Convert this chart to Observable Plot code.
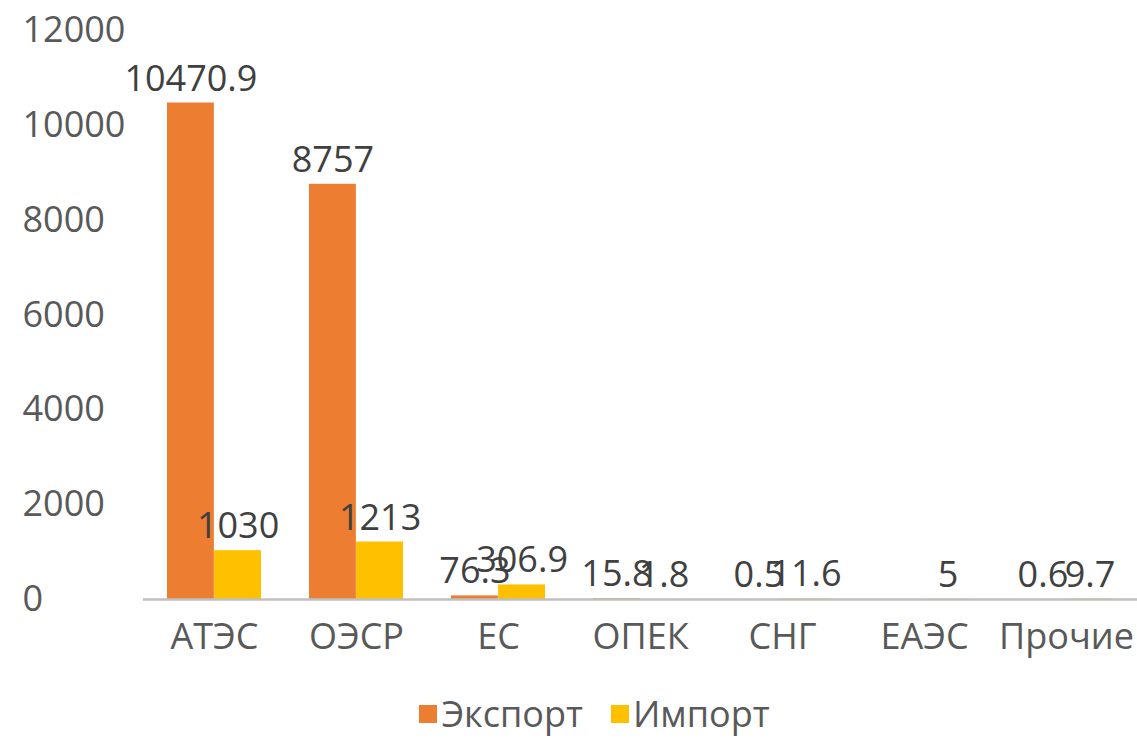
<!DOCTYPE html>
<html>
<head>
<meta charset="utf-8">
<script src="https://cdn.jsdelivr.net/npm/d3@7"></script>
<script src="https://cdn.jsdelivr.net/npm/@observablehq/plot@0.6"></script>
<style>
  body { margin: 0; background: #fff; font-family: "Open Sans", sans-serif; overflow: hidden; }
  #chart svg { display: block; }
  #legend { display: flex; justify-content: center; align-items: center; width: 1137px; box-sizing: border-box; padding-left: 52px; padding-top: 20px; height: 68px; font-size: 36px; line-height: 1.2; color: #595959; }
  .item { display: flex; align-items: center; margin: 0 14px; }
  .sw { width: 18px; height: 18px; margin-right: 4px; }
</style>
</head>
<body>
<div id="chart"></div>
<div id="legend"></div>
<script>
const categories = ["АТЭС", "ОЭСР", "ЕС", "ОПЕК", "СНГ", "ЕАЭС", "Прочие"];
const exportValues = [10470.9, 8757, 76.3, 15.8, 0.5, null, 0.6];
const importValues = [1030, 1213, 306.9, 1.8, 11.6, 5, 9.7];
const seriesNames = ["Экспорт", "Импорт"];
const seriesColors = ["#ED7D31", "#FFC000"];
const yTicks = [0, 2000, 4000, 6000, 8000, 10000, 12000];

const exportData = categories.map((c, i) => ({category: c, series: seriesNames[0], value: exportValues[i]})).filter(d => d.value != null);
const importData = categories.map((c, i) => ({category: c, series: seriesNames[1], value: importValues[i]})).filter(d => d.value != null);

const W = 1137, ML = 143, MR = 0;
const pIn = 0.34, pOut = 0.15;
const step = (W - ML - MR) / (categories.length - pIn + 2 * pOut);
const bw = step * (1 - pIn);

const chart = Plot.plot({
  width: W,
  height: 670,
  marginLeft: ML,
  marginRight: MR,
  marginTop: 30,
  marginBottom: 71,
  style: {fontFamily: "'Open Sans', sans-serif", fontSize: "36px", color: "#595959", background: "#fff", overflow: "visible"},
  x: {domain: categories, paddingInner: pIn, paddingOuter: pOut, axis: null},
  y: {domain: [0, 12000], axis: null},
  color: {domain: seriesNames, range: seriesColors},
  marks: [
    Plot.axisY({ticks: yTicks, tickFormat: d => String(d), tickSize: 0, tickPadding: 0, textAnchor: "start", dx: -121, fontSize: 36, fill: "#595959", label: null}),
    Plot.axisX({tickSize: 0, tickPadding: 24, fontSize: 36, fill: "#595959", label: null}),
    Plot.barY(exportData, {x: "category", y: "value", fill: "series", insetRight: bw / 2}),
    Plot.barY(importData, {x: "category", y: "value", fill: "series", insetLeft: bw / 2}),
    Plot.ruleY([0], {stroke: "#bfbfbf", strokeWidth: 2.5}),
    Plot.text(exportData, {x: "category", y: "value", text: d => String(d.value), dx: -bw / 4, dy: -24, fontSize: 36, fill: "#404040"}),
    Plot.text(importData, {x: "category", y: "value", text: d => String(d.value), dx: bw / 4, dy: -24, fontSize: 36, fill: "#404040"})
  ]
});
document.getElementById("chart").appendChild(chart);

const legend = document.getElementById("legend");
seriesNames.forEach((name, i) => {
  const item = document.createElement("div");
  item.className = "item";
  const sw = document.createElement("div");
  sw.className = "sw";
  sw.style.background = seriesColors[i];
  const label = document.createElement("span");
  label.textContent = name;
  item.appendChild(sw);
  item.appendChild(label);
  legend.appendChild(item);
});
</script>
</body>
</html>
